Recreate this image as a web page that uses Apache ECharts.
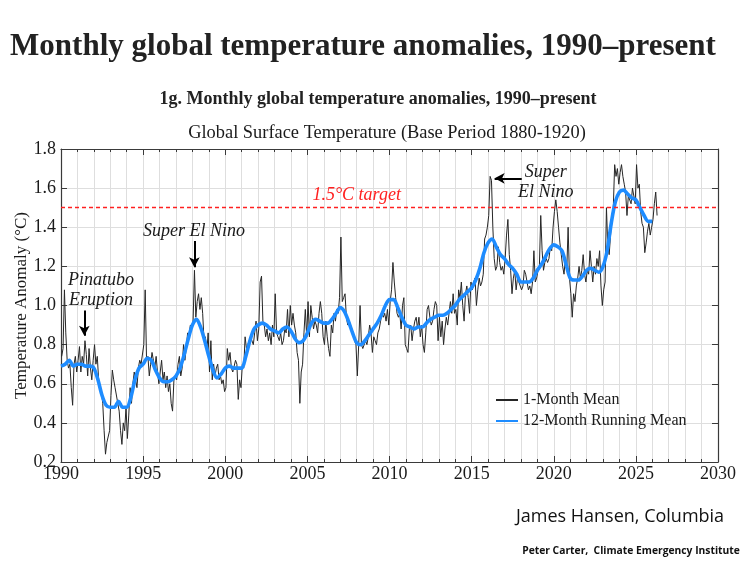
<!DOCTYPE html>
<html><head><meta charset="utf-8">
<script src="https://cdn.jsdelivr.net/npm/echarts@6/dist/echarts.min.js"></script>
<style>html,body{margin:0;padding:0;background:#fff}#c{width:750px;height:563px}</style>
</head><body><div id="c"></div>
<script>
// ---- data ----
const startYear = 1990;
const monthly1990s = [
  0.74,0.78,1.08,0.86,0.72,0.68,0.70,0.58,0.49,0.70,0.74,0.66,
  0.72,0.79,0.66,0.74,0.70,0.82,0.75,0.64,0.78,0.68,0.62,0.72,
  0.80,0.70,0.74,0.62,0.58,0.56,0.50,0.36,0.24,0.30,0.30,0.36,
  0.54,0.67,0.62,0.58,0.58,0.50,0.46,0.36,0.29,0.40,0.36,0.48,
  0.32,0.44,0.58,0.50,0.60,0.66,0.62,0.58,0.68,0.72,0.70,0.70,
  0.80,1.08,0.72,0.74,0.64,0.70,0.76,0.72,0.68,0.74,0.66,0.60,
  0.60,0.72,0.62,0.66,0.58,0.64,0.56,0.60,0.50,0.46,0.62,0.64,
  0.62,0.70,0.74,0.64,0.68,0.80,0.72,0.78,0.86,0.84,0.90,0.88,
  0.92,1.18,0.94,1.02,1.06,0.98,1.04,0.96,0.82,0.84,0.76,0.86,
  0.66,0.82,0.62,0.70,0.64,0.68,0.70,0.62,0.64,0.60,0.62,0.56
];
const monthly2000s = [
  0.58,0.78,0.72,0.76,0.68,0.66,0.66,0.72,0.70,0.52,0.62,0.58,
  0.70,0.68,0.84,0.78,0.80,0.80,0.84,0.82,0.80,0.86,0.92,0.82,
  0.88,1.12,1.15,0.92,0.90,0.84,0.88,0.82,0.86,0.80,0.90,0.84,
  1.06,0.86,0.84,0.82,0.86,0.80,0.82,0.88,0.86,0.98,0.84,1.00,
  0.90,0.96,0.90,0.86,0.76,0.72,0.50,0.66,0.70,0.86,0.98,0.84,
  1.02,0.84,1.00,0.94,0.88,0.92,0.90,0.86,0.96,1.02,0.96,0.84,
  0.80,0.92,0.84,0.78,0.74,0.90,0.86,0.96,0.92,0.98,0.96,1.04,
  1.35,1.02,1.04,1.06,0.94,0.90,0.92,0.90,0.88,0.86,0.82,0.80,
  0.64,0.80,1.00,0.80,0.78,0.78,0.82,0.80,0.84,0.90,0.86,0.76,
  0.84,0.82,0.80,0.86,0.88,0.92,0.96,0.94,0.96,0.92,0.98,0.90
];
const monthly2010s = [
  1.02,1.08,1.22,1.12,1.04,0.96,0.94,0.96,0.88,1.00,1.04,0.80,
  0.78,0.76,0.88,0.90,0.82,0.88,0.92,0.94,0.88,0.94,0.84,0.90,
  0.80,0.76,0.86,0.98,1.00,0.94,0.90,0.92,0.98,1.02,1.00,0.82,
  0.94,0.84,0.92,0.80,0.88,0.94,0.90,0.96,1.02,0.96,1.06,0.96,
  0.98,0.90,1.08,1.04,1.12,1.00,0.92,1.06,1.10,1.04,0.96,1.12,
  1.08,1.12,1.14,1.00,1.08,1.14,1.10,1.12,1.16,1.34,1.36,1.40,
  1.46,1.66,1.64,1.40,1.24,1.18,1.20,1.30,1.22,1.18,1.20,1.16,
  1.24,1.36,1.44,1.26,1.18,1.06,1.14,1.18,1.08,1.14,1.12,1.10,
  1.08,1.10,1.18,1.16,1.12,1.08,1.10,1.06,1.12,1.28,1.12,1.14,
  1.18,1.20,1.46,1.28,1.18,1.22,1.24,1.22,1.24,1.30,1.28,1.40
];
const monthly2020s = [
  1.48,1.54,1.48,1.40,1.32,1.26,1.20,1.16,1.24,1.18,1.40,1.14,
  1.06,0.94,1.06,1.02,1.10,1.14,1.20,1.14,1.18,1.26,1.16,1.12,
  1.18,1.16,1.28,1.20,1.12,1.20,1.16,1.24,1.20,1.28,1.10,1.00,
  1.08,1.12,1.50,1.30,1.26,1.36,1.46,1.50,1.72,1.66,1.70,1.62,
  1.68,1.72,1.66,1.62,1.58,1.46,1.56,1.56,1.52,1.60,1.56,1.52,
  1.72,1.60,1.62,1.48,1.42,1.40,1.27,1.32,1.38,1.42,1.36,1.40,
  1.44,1.52,1.58,1.46
];
// 12-month running mean, read every quarter year from 1990.0
const runningMeanStart = 1990;
const runningMeanStep = 0.25;
const runningMean1990s = [
  0.69,0.70,0.72,0.69, 0.70,0.70,0.69,0.69, 0.68,0.62,0.54,0.49,
  0.48,0.48,0.51,0.48, 0.48,0.53,0.62,0.68, 0.70,0.73,0.72,0.67,
  0.63,0.61,0.61,0.62, 0.64,0.68,0.75,0.83, 0.90,0.93,0.89,0.82,
  0.74,0.67,0.63,0.65
];
const runningMean2000s = [
  0.68,0.69,0.68,0.68, 0.68,0.74,0.82,0.88, 0.90,0.91,0.90,0.88,
  0.87,0.86,0.88,0.89, 0.87,0.83,0.81,0.82, 0.86,0.91,0.93,0.92,
  0.91,0.91,0.93,0.96, 0.99,0.97,0.92,0.86, 0.81,0.80,0.82,0.85,
  0.88,0.91,0.95,1.00
];
const runningMean2010s = [
  1.03,1.03,0.99,0.94, 0.90,0.89,0.88,0.89, 0.89,0.91,0.93,0.94,
  0.95,0.95,0.96,0.98, 1.00,1.03,1.05,1.07, 1.09,1.13,1.19,1.27,
  1.32,1.34,1.30,1.26, 1.24,1.21,1.19,1.16, 1.12,1.12,1.12,1.14,
  1.18,1.21,1.25,1.29
];
const runningMean2020s = [
  1.31,1.30,1.28,1.21, 1.14,1.13,1.13,1.15, 1.18,1.19,1.18,1.17,
  1.20,1.28,1.42,1.53, 1.58,1.59,1.57,1.55, 1.54,1.50,1.46,1.43,
  1.43
];
const xTicks = [1990,1995,2000,2005,2010,2015,2020,2025,2030];
const yTicks = [0.2,0.4,0.6,0.8,1.0,1.2,1.4,1.6,1.8];
const targetValue = 1.5;

// ---- build ----
const monthlyData = [monthly1990s, monthly2000s, monthly2010s, monthly2020s].flat()
  .map((v, i) => [startYear + (i + 0.5) / 12, v]);
const meanData = [runningMean1990s, runningMean2000s, runningMean2010s, runningMean2020s].flat()
  .map((v, i) => [runningMeanStart + i * runningMeanStep, v]);

const serif = 'Liberation Serif';
const axisCol = '#3a3a3a';
const gridCol = '#dedede';
const red = '#ff2020';
const txt = (extra) => Object.assign({fontFamily: serif, fontStyle: 'italic', fontSize: 18, color: '#1a1a1a', lineHeight: 20}, extra || {});

const chart = echarts.init(document.getElementById('c'));
const xBase = {
  type: 'value', min: xTicks[0], max: xTicks[xTicks.length - 1], interval: 5,
  axisLine: {show: true, onZero: false, lineStyle: {color: axisCol, width: 1.2}},
  axisTick: {show: true, inside: true, length: 6, lineStyle: {color: axisCol}},
  minorTick: {show: true, splitNumber: 5, length: 3, lineStyle: {color: axisCol}}
};
const yBase = {
  type: 'value', min: yTicks[0], max: yTicks[yTicks.length - 1], interval: 0.2,
  axisLine: {show: true, onZero: false, lineStyle: {color: axisCol, width: 1.2}},
  axisTick: {show: true, inside: true, length: 6, lineStyle: {color: axisCol}}
};
chart.setOption({
  animation: false,
  backgroundColor: '#fff',
  grid: {left: 61, right: 32, top: 149, bottom: 101},
  xAxis: [
    Object.assign({}, xBase, {
      position: 'bottom',
      axisLabel: {fontFamily: serif, fontSize: 18, color: '#1a1a1a', margin: 3, showMinLabel: true, showMaxLabel: true, formatter: v => String(v)},
      splitLine: {show: true, lineStyle: {color: gridCol, width: 1}},
      minorSplitLine: {show: true, lineStyle: {color: gridCol, width: 1}}
    }),
    Object.assign({}, xBase, {position: 'top', axisLabel: {show: false}, splitLine: {show: false}})
  ],
  yAxis: [
    Object.assign({}, yBase, {
      position: 'left',
      axisLabel: {fontFamily: serif, fontSize: 18, color: '#1a1a1a', margin: 5, showMinLabel: true, showMaxLabel: true, formatter: v => v.toFixed(1)},
      splitLine: {show: true, lineStyle: {color: gridCol, width: 1}},
      name: 'Temperature Anomaly (°C)', nameLocation: 'middle', nameGap: 31, nameMoveOverlap: false,
      nameTextStyle: {fontFamily: serif, fontSize: 17, color: '#1a1a1a'}
    }),
    Object.assign({}, yBase, {position: 'right', axisLabel: {show: false}, splitLine: {show: false}})
  ],
  legend: {
    orient: 'vertical', left: 490, top: 387, itemGap: 5, itemWidth: 22, itemHeight: 15,
    itemStyle: {opacity: 0},
    textStyle: {fontFamily: serif, fontSize: 16, color: '#1a1a1a'},
    data: ['1-Month Mean', '12-Month Running Mean']
  },
  series: [
    {
      name: '1-Month Mean', type: 'line', data: monthlyData, symbol: 'none', showSymbol: false, z: 2,
      lineStyle: {color: '#262626', width: 1}, itemStyle: {color: '#262626'},
      markLine: {
        silent: true, symbol: ['none', 'arrow'], symbolSize: [8, 10],
        lineStyle: {color: '#000', width: 2, type: 'solid'}, label: {show: false},
        data: [
          [{coord: [1991.42, 0.975]}, {coord: [1991.42, 0.845]}],
          [{coord: [1998.12, 1.33]}, {coord: [1998.12, 1.195]}],
          [{coord: [2018.05, 1.65]}, {coord: [2016.40, 1.65]}]
        ]
      },
      markPoint: {
        silent: true, symbol: 'circle', symbolSize: 0,
        data: [
          {name: 'Pinatubo\nEruption', coord: [1992.44, 1.076], label: txt()},
          {name: 'Super El Nino', coord: [1998.1, 1.381], label: txt()},
          {name: 'Super\nEl Nino', coord: [2019.52, 1.63], label: txt()},
          {name: '1.5°C target', coord: [2008.0, 1.564], label: txt({color: red})}
        ],
        label: {show: true, position: 'inside', formatter: p => p.name}
      }
    },
    {
      name: '12-Month Running Mean', type: 'line', data: meanData, symbol: 'none', showSymbol: false, smooth: 0.3, z: 3,
      lineStyle: {color: '#1e8cff', width: 3.6}, itemStyle: {color: '#1e8cff'}
    },
    {
      name: 'target', type: 'line', data: [], z: 1,
      markLine: {
        silent: true, symbol: ['none', 'none'], label: {show: false},
        lineStyle: {color: red, width: 1.4, type: [4, 3], opacity: 1},
        data: [{yAxis: targetValue}]
      }
    }
  ],
  graphic: [
    {type: 'text', x: 363, y: 47, style: {text: 'Monthly global temperature anomalies, 1990\u2013present', font: 'bold 31px "Liberation Serif"', fill: '#222', align: 'center', verticalAlign: 'middle'}},
    {type: 'text', x: 378, y: 99, style: {text: '1g. Monthly global temperature anomalies, 1990\u2013present', font: 'bold 18px "Liberation Serif"', fill: '#222', align: 'center', verticalAlign: 'middle'}},
    {type: 'text', x: 387, y: 133, style: {text: 'Global Surface Temperature (Base Period 1880-1920)', font: '18.4px "Liberation Serif"', fill: '#1a1a1a', align: 'center', verticalAlign: 'middle'}},
    {type: 'text', x: 620, y: 517, style: {text: 'James Hansen, Columbia', font: '18px "Open Sans"', fill: '#111', align: 'center', verticalAlign: 'middle'}},
    {type: 'text', x: 631, y: 551, style: {text: 'Peter Carter,  Climate Emergency Institute', font: 'bold 10.3px "Open Sans"', fill: '#111', align: 'center', verticalAlign: 'middle'}}
  ]
});
</script>
</body></html>
